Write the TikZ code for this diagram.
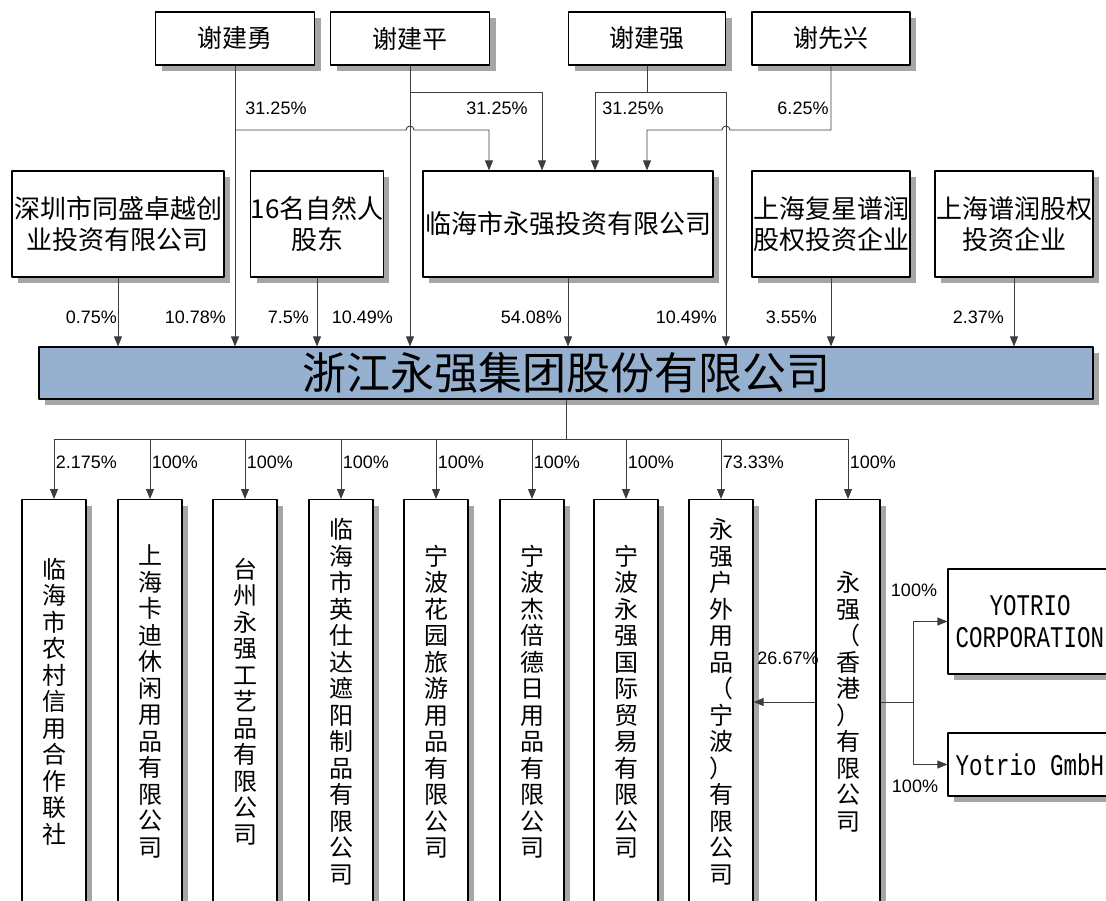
\documentclass[tikz,border=0pt]{standalone}
\usepackage{fontspec}
\setmainfont{Liberation Sans}
\newfontfamily\zh{Noto Sans CJK SC}
\newfontfamily\ymono[FakeStretch=0.75]{Liberation Mono}
\usetikzlibrary{arrows.meta,shadows}
\definecolor{mainblue}{RGB}{150,177,207}
\definecolor{shadowgray}{RGB}{166,166,166}
\definecolor{linegray}{RGB}{60,60,60}

\begin{document}
\begin{tikzpicture}[x=1pt, y=-1pt, line join=round,
    box/.style={draw, line width=1.2pt, fill=white, inner sep=0pt, align=center,
      drop shadow={shadow xshift=6pt, shadow yshift=-6pt, fill=shadowgray, opacity=1}},
    person/.style={box, font=\zh\fontsize{25}{30}\selectfont, minimum height=53pt},
    holder/.style={box, font=\zh\fontsize{26}{31}\selectfont, minimum height=106pt},
    subbox/.style={box, font=\zh\fontsize{24}{26.5}\selectfont, minimum width=64pt, minimum height=404pt, anchor=north},
    arr/.style={-{Triangle[width=8pt,length=10pt]}, line width=0.9pt, draw=linegray},
    ln/.style={line width=0.9pt, draw=linegray},
    pct/.style={font=\fontsize{18}{20}\selectfont, inner sep=0pt}]
\useasboundingbox (0,0) rectangle (1106,900);

% shareholders
\node[person, minimum width=159pt] (jy) at (235,38.5) {谢建勇};
\node[person, minimum width=159pt] (jp) at (410,38.5) {谢建平};
\node[person, minimum width=157pt] (jq) at (647,38.5) {谢建强};
\node[person, minimum width=158pt] (xx) at (831,38.5) {谢先兴};

\node[holder, minimum width=212pt] (sz) at (118,224) {深圳市同盛卓越创\\业投资有限公司};
\node[holder, minimum width=132pt] (zr) at (317,224) {16名自然人\\股东};
\node[holder, minimum width=290pt] (lh) at (568,224) {临海市永强投资有限公司};
\node[holder, minimum width=158pt] (fx) at (831,224) {上海复星谱润\\股权投资企业};
\node[holder, minimum width=158pt] (pr) at (1014,224) {上海谱润股权\\投资企业};

\node[box, fill=mainblue, minimum width=1054pt, minimum height=52pt,
  font=\zh\fontsize{44}{48}\selectfont] (jt) at (566,373) {浙江永强集团股份有限公司};

% subsidiaries
\node[subbox] (b1) at (54,499) {临\\海\\市\\农\\村\\信\\用\\合\\作\\联\\社};
\node[subbox] (b2) at (150,499) {上\\海\\卡\\迪\\休\\闲\\用\\品\\有\\限\\公\\司};
\node[subbox] (b3) at (245,499) {台\\州\\永\\强\\工\\艺\\品\\有\\限\\公\\司};
\node[subbox] (b4) at (341,499) {临\\海\\市\\英\\仕\\达\\遮\\阳\\制\\品\\有\\限\\公\\司};
\node[subbox] (b5) at (436,499) {宁\\波\\花\\园\\旅\\游\\用\\品\\有\\限\\公\\司};
\node[subbox] (b6) at (532,499) {宁\\波\\杰\\倍\\德\\日\\用\\品\\有\\限\\公\\司};
\node[subbox] (b7) at (626,499) {宁\\波\\永\\强\\国\\际\\贸\\易\\有\\限\\公\\司};
\node[subbox] (b8) at (721,499) {永\\强\\户\\外\\用\\品\\（\\宁\\波\\）\\有\\限\\公\\司};
\node[subbox] (b9) at (848,499) {永\\强\\（\\香\\港\\）\\有\\限\\公\\司};

\node[box, minimum width=164pt, minimum height=105pt, font=\ymono\fontsize{30}{32}\selectfont] (yc) at (1030,621.5) {YOTRIO\\CORPORATION};
\node[box, minimum width=164pt, minimum height=63pt, font=\ymono\fontsize{30}{32}\selectfont] (yg) at (1030,764.5) {Yotrio GmbH};

% top level
\draw[arr] (jy.south) -- (jy.south |- jt.north);
\draw[arr] (jy.south |- 0,130) -- (406,130) arc (180:360:4) -| (lh.north -| 489,0);
\draw[arr] (jp.south) -- (jp.south |- jt.north);
\draw[arr] (jp.south |- 0,92) -| (lh.north -| 542,0);
\draw[arr] (jq.south) |- (595,92) -- (lh.north -| 595,0);
\draw[arr] (jq.south |- 0,92) -| (jt.north -| 726,0);
\draw[arr] (xx.south) |- (730,130) arc (0:-180:4) -| (lh.north -| 647,0);
\node[pct] (t1) at (276,108) {31.25\%};
\node[pct] (t2) at (497,108) {31.25\%};
\node[pct] (t3) at (633,108) {31.25\%};
\node[pct] (t4) at (803,108) {6.25\%};

% second level
\draw[arr] (sz.south) -- (sz.south |- jt.north);
\draw[arr] (zr.south) -- (zr.south |- jt.north);
\draw[arr] (lh.south) -- (lh.south |- jt.north);
\draw[arr] (fx.south) -- (fx.south |- jt.north);
\draw[arr] (pr.south) -- (pr.south |- jt.north);
\node[pct, anchor=east] (s1) at (117,317) {0.75\%};
\node[pct, anchor=east] (s2) at (226,317) {10.78\%};
\node[pct, anchor=east] (s3) at (309,317) {7.5\%};
\node[pct, anchor=east] (s4) at (393,317) {10.49\%};
\node[pct, anchor=east] (s5) at (562,317) {54.08\%};
\node[pct, anchor=east] (s6) at (717,317) {10.49\%};
\node[pct, anchor=east] (s7) at (817,317) {3.55\%};
\node[pct, anchor=east] (s8) at (1004,317) {2.37\%};

% group to subsidiaries
\draw[ln] (jt.south) -- (jt.south |- 0,439);
\draw[ln] (b1.north |- 0,439) -- (b9.north |- 0,439);
\foreach \b/\p in {b1/2.175, b2/100, b3/100, b4/100, b5/100, b6/100, b7/100, b8/73.33, b9/100}
  \draw[arr] (\b.north |- 0,439) -- (\b.north) node[pct, pos=.38, anchor=west, xshift=1.5pt] (q\b) {\p\%};

% hong kong branch
\coordinate (split) at (913,702);
\draw[arr] (b9.west |- 0,702) -- (b8.east |- 0,702);
\draw[ln] (b9.east |- split) -- (split);
\draw[arr] (split) |- (yc.west);
\draw[arr] (split) |- (yg.west);
\node[pct] (h1) at (788,658) {26.67\%};
\node[pct] (h2) at (914,590) {100\%};
\node[pct] (h3) at (915,786) {100\%};
\end{tikzpicture}
\end{document}
